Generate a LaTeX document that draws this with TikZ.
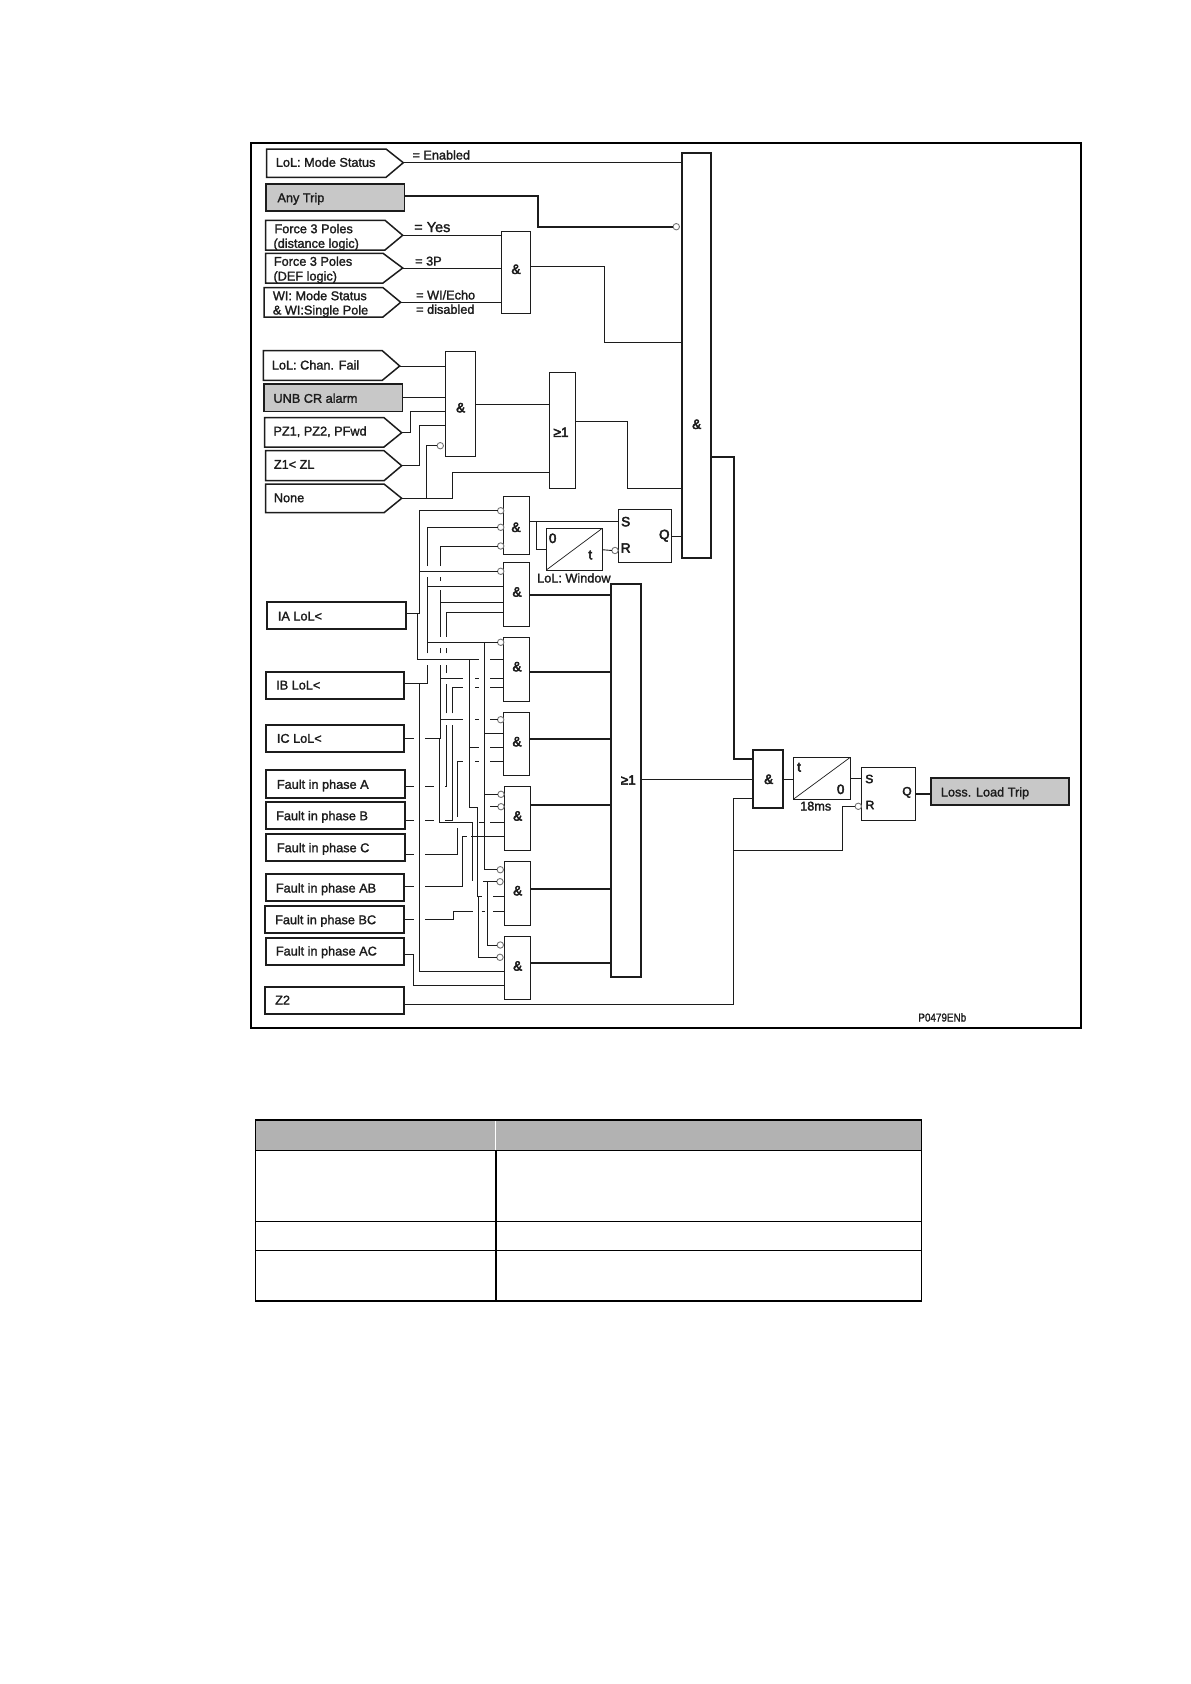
\documentclass[tikz,border=0pt]{standalone}
\usepackage{fontspec}
\setmainfont{Liberation Sans}[FakeBold=1.6]
\newfontfamily\gatefont{Liberation Sans}[FakeBold=3.5]
\newcommand{\lblsize}{\fontsize{12.7}{14}\selectfont}
\definecolor{inkc}{HTML}{1C1C1C}
\definecolor{fillg}{HTML}{C8C8C8}
\definecolor{headg}{HTML}{B2B2B2}
\tikzset{
  x=1pt,y=-1pt,
  wire/.style={draw=inkc,line width=0.9pt},
  heavy/.style={draw=inkc,line width=1.9pt},
  blk/.style={draw=inkc,line width=1pt,fill=white,inner sep=0,outer sep=0,anchor=north west},
  blkh/.style={blk,line width=2pt},
  inbox/.style={blk,line width=1.8pt},
  greybox/.style={blk,line width=1.6pt,fill=fillg},
  tagline/.style={draw=inkc,line width=1.5pt,fill=white},
  inv/.style={circle,draw=black!55,line width=0.9pt,fill=white,inner sep=0,minimum size=6.4pt,outer sep=0},
  lbl/.style={inner sep=0,anchor=base west,text=inkc,font=\lblsize},
  glbl/.style={inner sep=0,text=inkc,font=\gatefont\fontsize{13.5}{14}\selectfont},
}
\newcommand{\bk}[6][blk]{% style,name,x1,y1,x2,y2
  \pgfmathsetmacro\bkw{#5-#3}\pgfmathsetmacro\bkh{#6-#4}
  \node[#1,minimum width=\bkw pt,minimum height=\bkh pt] (#2) at (#3,#4) {};}
\newcommand{\tg}[7]{% name,x1,y1,shoulder,tipx,tipy,y2
  \draw[tagline] (#2,#3) -- (#4,#3) -- (#5,#6) -- (#4,#7) -- (#2,#7) -- cycle;
  \coordinate (#1) at (#5,#6);}
\newcommand{\tx}[4]{\node[lbl] (#1) at (#2,#3+4.5) {#4};}
\begin{document}
\begin{tikzpicture}
\useasboundingbox (0,0) rectangle (1191,1684);
\fill[white] (0,0) rectangle (1191,1684);
% frame
\node[draw=black,line width=2.2pt,inner sep=0,outer sep=0,anchor=north west,minimum width=830pt,minimum height=885pt] (frame) at (251,143) {};

% input tags
\tg{tmode}{266.7}{149}{386}{403.3}{162.7}{177.3}
\tg{tfd}{265.7}{220.3}{385}{402.7}{235.3}{250}
\tg{tfe}{265.7}{253.3}{383}{402.7}{268}{283}
\tg{twi}{264}{287.7}{383}{400.7}{302.3}{317}
\tg{tchan}{263.3}{350.7}{382.3}{399.7}{366}{380.3}
\tg{tpz}{264.7}{417.7}{384}{401.7}{432.7}{447}
\tg{tz1}{265.7}{450.7}{384}{401.7}{465.7}{480.7}
\tg{tnone}{265.7}{484}{384}{401.7}{498.3}{512.7}
\bk[greybox]{anytrip}{265.7}{183.7}{404.3}{211}
\bk[greybox]{unb}{263.7}{383.7}{402.3}{411.3}
\bk[inbox]{ia}{266.7}{602}{406}{629}
\bk[inbox]{ib}{265.7}{671.7}{404.3}{699}
\bk[inbox]{ic}{265.7}{724.7}{404.3}{752}
\bk[inbox]{fa}{266.3}{769.7}{405.3}{798}
\bk[inbox]{fb}{265.7}{801.7}{405.3}{829}
\bk[inbox]{fc}{266.3}{833.7}{405.3}{861}
\bk[inbox]{ab}{265.7}{874}{404.3}{901.3}
\bk[inbox]{bc}{265.3}{905.7}{404.3}{933}
\bk[inbox]{ac}{265.7}{937.7}{404.3}{965}
\bk[inbox]{ztwo}{264.7}{986.7}{404.3}{1014}

% gates
\bk[blkh]{bigand}{681.7}{152.7}{711.3}{558}
\bk{g1}{501.3}{231.3}{530.7}{313.3}
\bk{g2}{445.3}{351.3}{475.3}{456.3}
\bk{or1}{549.3}{372.3}{575.3}{488.3}
\bk{g3}{503.3}{496.3}{529.3}{554.3}
\bk{g4}{503.3}{562.3}{529.3}{626.3}
\bk{g5}{503.3}{637.3}{529.3}{701.3}
\bk{g6}{503.3}{712.3}{529.3}{775.7}
\bk{g7}{504.3}{786.3}{530.7}{850.3}
\bk{g8}{504.3}{861.3}{530.7}{925.3}
\bk{g9}{504.3}{936.3}{530.7}{999.3}
\bk{tm1}{546.3}{528.3}{602.3}{570}
\bk{sr1}{618.3}{509.3}{671.5}{562.3}
\bk[blkh]{bigor}{610.9}{584.2}{641.2}{976.7}
\bk[blkh]{lastand}{753.3}{749.7}{783.3}{808.3}
\bk{tm2}{793.3}{757.3}{850.3}{799.3}
\bk{sr2}{861.3}{767.3}{915.3}{820.3}
\bk[blkh]{lossbox}{930.7}{778}{1069.3}{805.3}
\fill[fillg] (lossbox.south west) rectangle (lossbox.north east);
\draw[inkc,line width=2pt] (lossbox.south west) rectangle (lossbox.north east);
\draw[wire,line width=.7pt] (tm1.south west) -- (tm1.north east);
\draw[wire,line width=.7pt] (tm2.south west) -- (tm2.north east);

% inversion circles
\node[inv] (cbig) at (676.3,226.7) {};
\node[inv] (c2) at (440.3,445.7) {};
\node[inv] (c31) at (500.7,510.7) {};
\node[inv] (c32) at (500.7,527.3) {};
\node[inv] (c33) at (500.7,546) {};
\node[inv] (csr1) at (615,550.5) {};
\node[inv] (c41) at (500.7,571.3) {};
\node[inv] (c51) at (500.7,642.3) {};
\node[inv] (c61) at (500.7,719.7) {};
\node[inv] (c71) at (501,794.3) {};
\node[inv] (c72) at (501,806.7) {};
\node[inv] (c81) at (500.3,869.7) {};
\node[inv] (c82) at (500,881.7) {};
\node[inv] (c91) at (500.3,945) {};
\node[inv] (c92) at (500,957.3) {};
\node[inv] (csr2) at (858.3,806.3) {};

% upper wiring
\draw[wire] (tmode) -- (bigand.west |- tmode);
\draw[heavy] (anytrip.east |- 0,196) -- (537.7,196) |- (cbig.west);
\draw[wire] (tfd) -- (g1.west |- tfd);
\draw[wire] (tfe) -- (g1.west |- tfe);
\draw[wire] (twi) -- (g1.west |- twi);
\draw[wire] (g1.east |- 0,266.3) -- (604.3,266.3) |- (bigand.west |- 0,342);
\draw[wire] (tchan) -- (g2.west |- tchan);
\draw[wire] (unb.east |- 0,397.3) -- (g2.west |- 0,397.3);
\draw[wire] (tpz) -- (410.3,432.7) |- (g2.west |- 0,411.3);
\draw[wire] (tz1) -- (419.3,465.7) |- (g2.west |- 0,425.3);
\draw[wire] (tnone) -- (452.3,498.3) |- (or1.west |- 0,472.3);
\draw[wire] (426.3,498.3) |- (c2.west);
\draw[wire] (g2.east |- 0,404.3) -- (or1.west |- 0,404.3);
\draw[wire] (or1.east |- 0,421.3) -- (627.7,421.3) |- (bigand.west |- 0,488.3);
\draw[heavy] (bigand.east |- 0,456.7) -- (733.7,456.7) |- (lastand.west |- 0,759);

% timer / SR top
\draw[wire] (g3.east |- 0,521.7) -- (sr1.west |- 0,521.7);
\draw[wire] (536.3,521.7) |- (tm1.west |- 0,549.3);
\draw[wire] (tm1.east |- 0,549.7) -- (csr1.west);
\draw[wire] (sr1.east |- 0,536.3) -- (bigand.west |- 0,536.3);

% gate outputs to big OR
\foreach \g/\y in {g4/595,g5/672,g6/738.7,g7/804.7,g8/888.7,g9/962.7}
  \draw[heavy] (\g.east |- 0,\y) -- (bigor.west |- 0,\y);
\draw[wire] (bigor.east |- 0,779.3) -- (lastand.west |- 0,779.3);
\draw[wire] (lastand.east |- 0,779.3) -- (tm2.west |- 0,779.3);
\draw[wire] (tm2.east |- 0,778.3) -- (sr2.west |- 0,778.3);
\draw[wire] (ztwo.east |- 0,1004.3) -- (733.3,1004.3) |- (lastand.west |- 0,798.3);
\draw[wire] (733.3,850.3) -- (842.7,850.3) |- (csr2.west);
\draw[heavy] (sr2.east |- 0,793.7) -- (lossbox.west |- 0,793.7);

% IA
\draw[wire] (ia.east |- 0,613.3) -- (419.3,613.3) |- (c31.west);
\draw[wire] (419.3,571.3) -- (c41.west);
\draw[wire] (417.3,613.3) -- (417.3,659.3) -- (479.3,659.3);
\draw[wire] (490,659.3) -- (g5.west |- 0,659.3);
\draw[wire] (469.3,659.3) -- (469.3,807.3) -- (478.3,807.3);
\draw[wire] (469.3,747.3) -- (479.3,747.3);
\draw[wire] (490,747.3) -- (g6.west |- 0,747.3);
\draw[wire] (490,806.7) -- (c72.west);
\draw[wire] (477.7,807.3) -- (477.7,896) -- (481.7,896);
\draw[wire] (493,896) -- (g8.west |- 0,896);
\draw[wire] (478.7,896) -- (478.7,957.3) -- (c92.west);
% IB
\draw[wire] (ib.east |- 0,683.3) -- (427.3,683.3) -- (427.3,665);
\draw[wire] (427.3,653.3) -- (427.3,577.3);
\draw[wire] (427.3,566) -- (427.3,527.3) -- (c32.west);
\draw[wire] (427.3,586.7) -- (g4.west |- 0,586.7);
\draw[wire] (427.3,642.3) -- (c51.west);
\draw[wire] (419.3,683.3) -- (419.3,971.3) -- (g9.west |- 0,971.3);
\draw[wire] (484.5,642.3) -- (484.5,869.7) -- (c81.west);
\draw[wire] (484.5,733.3) -- (g6.west |- 0,733.3);
\draw[wire] (484.5,794.3) -- (c71.west);
% IC
\draw[wire] (ic.east |- 0,738.3) -- (414,738.3);
\draw[wire] (425,738.3) -- (440.7,738.3) -- (440.7,665);
\draw[wire] (440.7,653.3) -- (440.7,648.3);
\draw[wire] (440.7,636.7) -- (440.7,590);
\draw[wire] (440.7,581) -- (440.7,577);
\draw[wire] (440.7,566) -- (440.7,546) -- (c33.west);
\draw[wire] (440.7,602.7) -- (g4.west |- 0,602.7);
\draw[wire] (440.7,678.3) -- (463.3,678.3);
\draw[wire] (475,678.3) -- (479.3,678.3);
\draw[wire] (490,678.3) -- (g5.west |- 0,678.3);
\draw[wire] (440.7,719.7) -- (463.3,719.7);
\draw[wire] (475,719.7) -- (479.3,719.7);
\draw[wire] (490,719.7) -- (c61.west);
\draw[wire] (439.3,738.3) -- (439.3,822.3) -- (472.7,822.3) -- (472.7,880.7);
\draw[wire] (478.5,822.3) -- (484.5,822.3);
\draw[wire] (490,822.3) -- (g7.west |- 0,822.3);
\draw[wire] (483.3,881.7) -- (c82.west);
\draw[wire] (487.3,881.7) -- (487.3,945) -- (c91.west);
% Fault A
\draw[wire] (fa.east |- 0,786) -- (414,786);
\draw[wire] (425,786) -- (434.3,786);
\draw[wire] (445,786) -- (446.3,786) -- (446.3,725);
\draw[wire] (446.3,713.3) -- (446.3,683.5);
\draw[wire] (446.3,673) -- (446.3,665);
\draw[wire] (446.3,653.3) -- (446.3,648.3);
\draw[wire] (446.3,636.7) -- (446.3,612.7) -- (g4.west |- 0,612.7);
% Fault B
\draw[wire] (fb.east |- 0,820.3) -- (414,820.3);
\draw[wire] (425,820.3) -- (434.3,820.3);
\draw[wire] (445,820.3) -- (452.3,820.3) -- (452.3,725);
\draw[wire] (452.3,713.3) -- (452.3,687.3) -- (463.3,687.3);
\draw[wire] (475,687.3) -- (479.3,687.3);
\draw[wire] (490,687.3) -- (g5.west |- 0,687.3);
% Fault C
\draw[wire] (fc.east |- 0,854.3) -- (414,854.3);
\draw[wire] (425,854.3) -- (457.7,854.3) -- (457.7,828.3);
\draw[wire] (457.7,816.7) -- (457.7,761.3) -- (463.3,761.3);
\draw[wire] (475,761.3) -- (479.3,761.3);
\draw[wire] (490,761.3) -- (g6.west |- 0,761.3);
% Fault AB
\draw[wire] (ab.east |- 0,886.3) -- (414,886.3);
\draw[wire] (425,886.3) -- (462.5,886.3) -- (462.5,836.3) -- (466.7,836.3);
\draw[wire] (471,836.3) -- (g7.west |- 0,836.3);
% Fault BC
\draw[wire] (bc.east |- 0,919.3) -- (414,919.3);
\draw[wire] (425,919.3) -- (453.3,919.3) -- (453.3,911.3) -- (472.7,911.3);
\draw[wire] (481.7,911.3) -- (485,911.3);
\draw[wire] (493,911.3) -- (g8.west |- 0,911.3);
% Fault AC
\draw[wire] (ac.east |- 0,954.3) -- (413.3,954.3) |- (g9.west |- 0,985.3);

% labels
\tx{l1}{275.7}{162.3}{LoL: Mode Status}
\tx{l2}{277.3}{197.7}{Any Trip}
\tx{l3}{274.3}{228.7}{Force 3 Poles}
\tx{l4}{273.3}{243.3}{(distance logic)}
\tx{l5}{273.7}{261.3}{Force 3 Poles}
\tx{l6}{273.3}{276}{(DEF logic)}
\tx{l7}{272.7}{295.7}{WI: Mode Status}
\tx{l8}{272.7}{310}{\& WI:Single Pole}
\tx{l9}{412.3}{155}{= Enabled}
\node[lbl,font=\fontsize{14.5}{15}\selectfont] (l10) at (414,232) {= Yes};
\tx{l11}{415}{261}{= 3P}
\tx{l12}{416}{295}{= WI/Echo}
\tx{l13}{416}{309.3}{= disabled}
\tx{l14}{271.7}{365}{LoL: Chan. Fail}
\tx{l15}{273.3}{398.3}{UNB CR alarm}
\tx{l16}{273.3}{431}{PZ1, PZ2, PFwd}
\tx{l17}{273.7}{464.3}{Z1< ZL}
\tx{l18}{273.7}{497.7}{None}
\tx{l19}{277.7}{616}{IA LoL<}
\tx{l20}{276}{685}{IB LoL<}
\tx{l21}{276.7}{738.3}{IC LoL<}
\tx{l22}{276.7}{784.3}{Fault in phase A}
\tx{l23}{276}{815.7}{Fault in phase B}
\tx{l24}{276.7}{847.7}{Fault in phase C}
\tx{l25}{275.7}{888}{Fault in phase AB}
\tx{l26}{275}{919.7}{Fault in phase BC}
\tx{l27}{275.7}{951}{Fault in phase AC}
\tx{l28}{275}{1000}{Z2}
\tx{l29}{537}{578}{LoL: Window}
\tx{l30}{800}{806}{18ms}
\tx{l31}{940.7}{792}{Loss. Load Trip}
\node[lbl,xscale=.86,font=\fontsize{11.5}{12}\selectfont,anchor=base] (l32) at (942.3,1021.5) {P0479ENb};
% gate symbols
\node[glbl] (a1) at (516,269.3) {\&};
\node[glbl] (a2) at (460.7,407.7) {\&};
\node[glbl] (a3) at (696.7,424.3) {\&};
\node[glbl] (a4) at (516,527.3) {\&};
\node[glbl] (a5) at (517,592) {\&};
\node[glbl] (a6) at (517,666.7) {\&};
\node[glbl] (a7) at (517,741.7) {\&};
\node[glbl] (a8) at (517.7,816) {\&};
\node[glbl] (a9) at (517.7,890.7) {\&};
\node[glbl] (a10) at (517.7,966) {\&};
\node[glbl] (a11) at (768.7,779.3) {\&};
\node[glbl] (o1) at (561,432.3) {≥1};
\node[glbl] (o2) at (628.3,780) {≥1};
\node[glbl] (t1a) at (552.7,538.3) {0};
\node[glbl] (t1b) at (590.3,555) {t};
\node[glbl] (t2a) at (799,767.3) {t};
\node[glbl] (t2b) at (840.7,789.3) {0};
\node[glbl] (s1) at (625.7,521.7) {S};
\node[glbl] (r1) at (625.7,548) {R};
\node[glbl] (q1) at (664.3,535.7) {Q};
\node[glbl,font=\gatefont\fontsize{12}{13}\selectfont] (s2) at (869.3,779) {S};
\node[glbl,font=\gatefont\fontsize{12}{13}\selectfont] (r2) at (870,805) {R};
\node[glbl,font=\gatefont\fontsize{12}{13}\selectfont] (q2) at (907,792.3) {Q};

% table
\fill[headg] (255.6,1120.2) rectangle (921.5,1150.2);
\draw[white,line width=1pt] (495,1121) -- (495,1149.5);
\draw[black,line width=1.2pt] (255.6,1150.2) -- (921.5,1150.2);
\draw[black,line width=1.2pt] (255.6,1221.3) -- (921.5,1221.3);
\draw[black,line width=1.2pt] (255.6,1250.3) -- (921.5,1250.3);
\draw[black,line width=1.2pt] (496,1150.2) -- (496,1300.8);
\draw[black,line width=1.2pt] (255.6,1120.2) -- (255.6,1300.8);
\draw[black,line width=1.2pt] (921.5,1120.2) -- (921.5,1300.8);
\draw[black,line width=1.8pt] (255,1120.2) -- (922,1120.2);
\draw[black,line width=1.8pt] (255,1300.8) -- (922,1300.8);
\end{tikzpicture}
\end{document}
